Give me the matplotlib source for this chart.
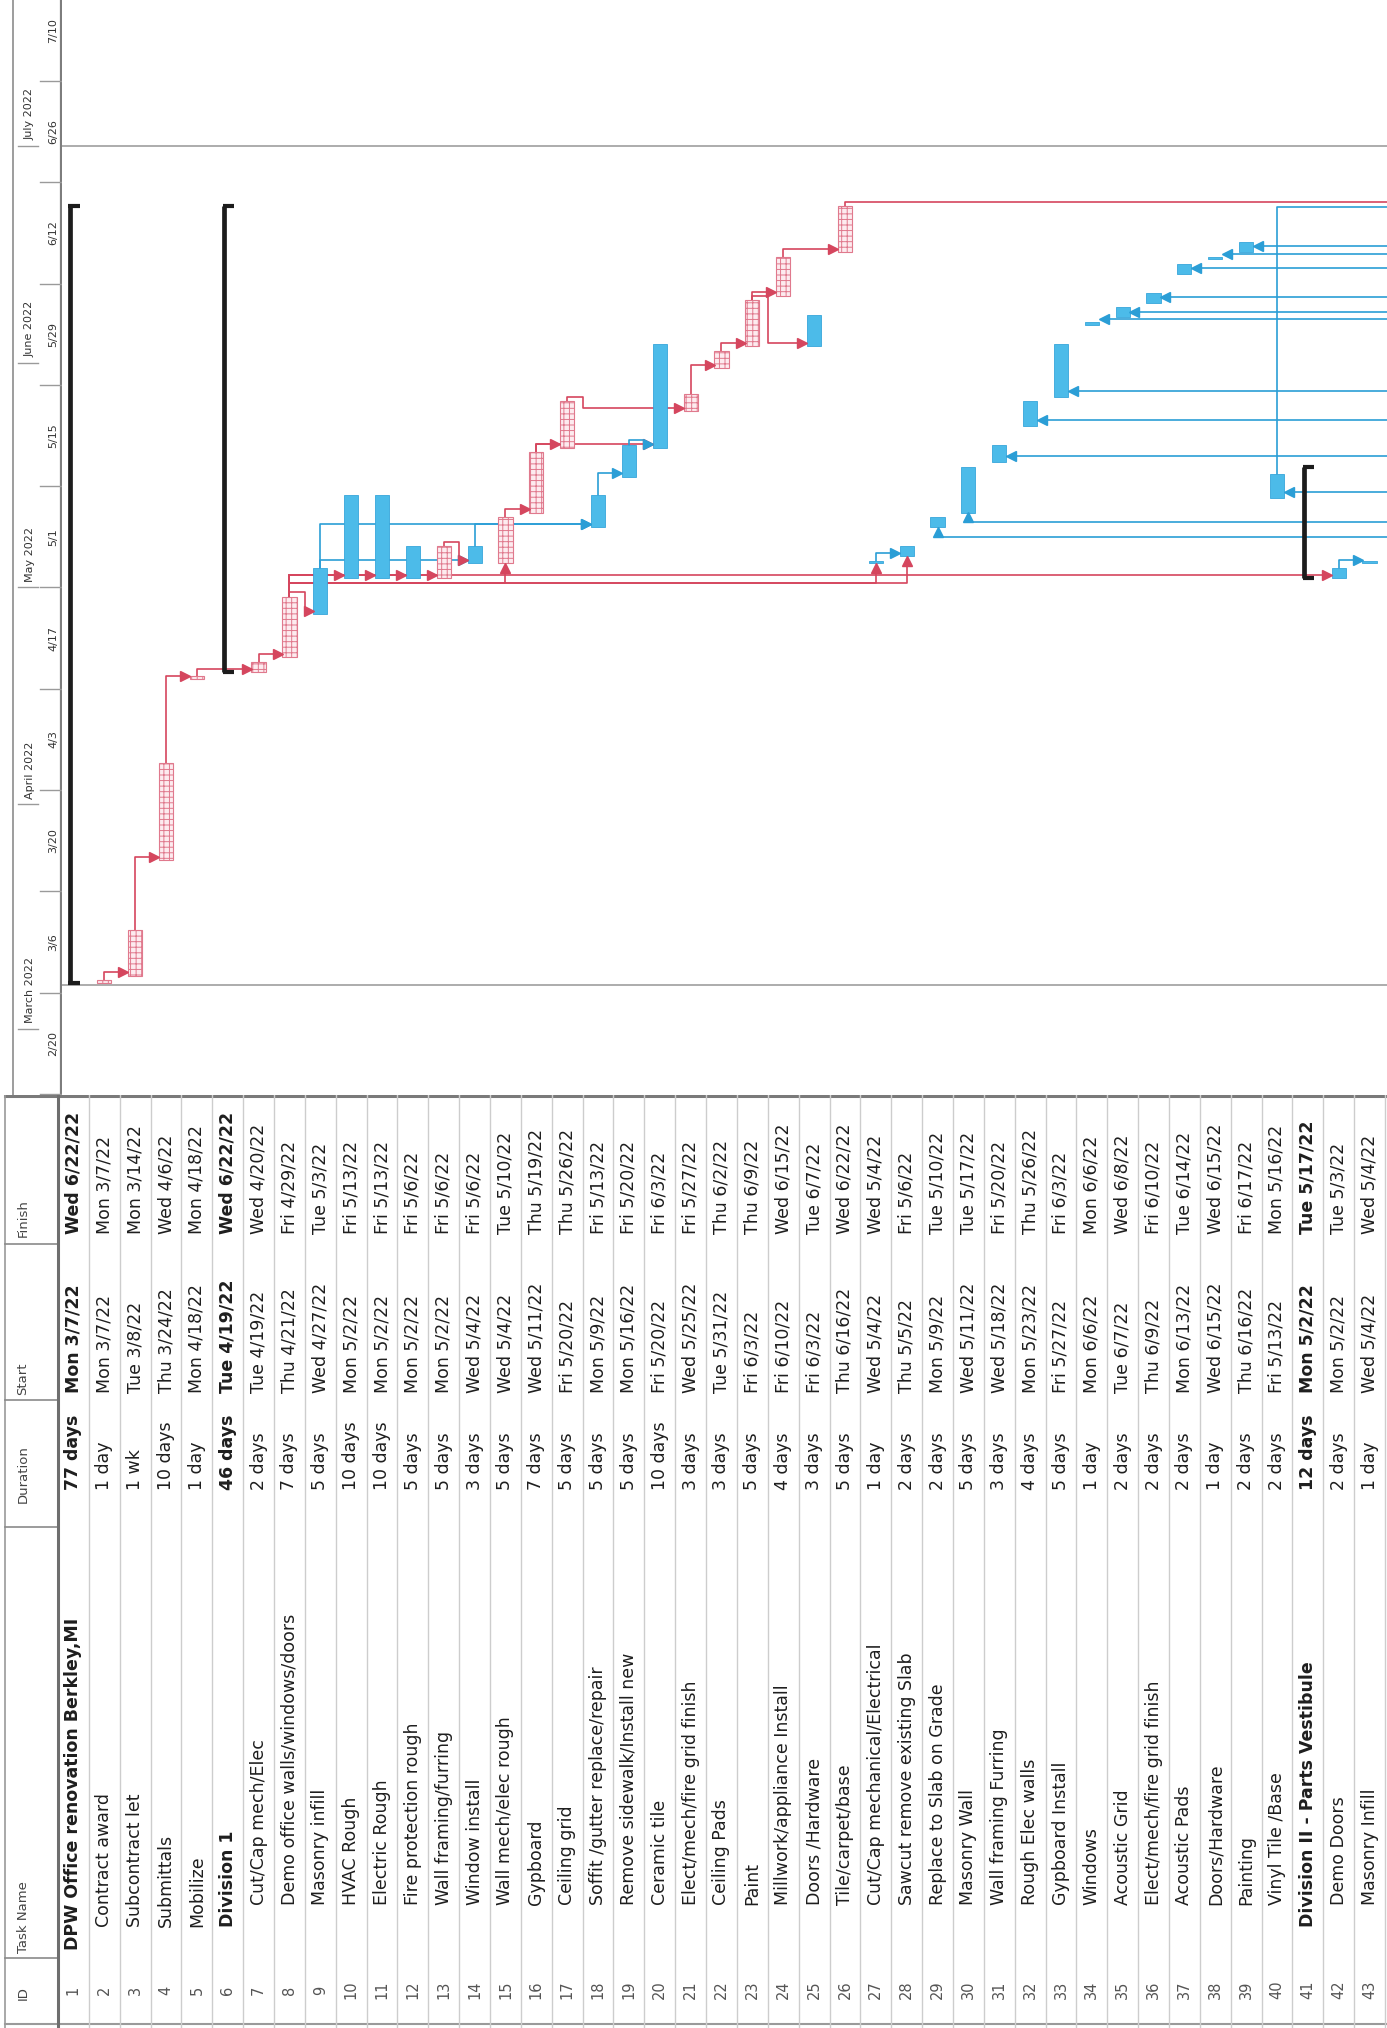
import matplotlib
matplotlib.use('Agg')
import matplotlib.pyplot as plt
import matplotlib.dates as mdates
import pandas as pd
from matplotlib.patches import Rectangle

# ---------------- data ----------------
task_ids = list(range(1, 44))
task_names = [
    "DPW Office renovation Berkley,MI", "Contract award", "Subcontract let", "Submittals",
    "Mobilize", "Division 1", "Cut/Cap mech/Elec", "Demo office walls/windows/doors",
    "Masonry infill", "HVAC Rough", "Electric Rough", "Fire protection rough",
    "Wall framing/furring", "Window install", "Wall mech/elec rough", "Gypboard",
    "Ceiling grid", "Soffit /gutter replace/repair", "Remove sidewalk/Install new",
    "Ceramic tile", "Elect/mech/fire grid finish", "Ceiling Pads", "Paint",
    "Millwork/appliance Install", "Doors /Hardware", "Tile/carpet/base",
    "Cut/Cap mechanical/Electrical", "Sawcut remove existing Slab", "Replace to Slab on Grade",
    "Masonry Wall", "Wall framing Furring", "Rough Elec walls", "Gypboard Install",
    "Windows", "Acoustic Grid", "Elect/mech/fire grid finish", "Acoustic Pads",
    "Doors/Hardware", "Painting", "Vinyl Tile /Base", "Division II - Parts Vestibule",
    "Demo Doors", "Masonry Infill"]
durations = [
    "77 days", "1 day", "1 wk", "10 days", "1 day", "46 days", "2 days", "7 days",
    "5 days", "10 days", "10 days", "5 days", "5 days", "3 days", "5 days", "7 days",
    "5 days", "5 days", "5 days", "10 days", "3 days", "3 days", "5 days", "4 days",
    "3 days", "5 days", "1 day", "2 days", "2 days", "5 days", "3 days", "4 days",
    "5 days", "1 day", "2 days", "2 days", "2 days", "1 day", "2 days", "2 days",
    "12 days", "2 days", "1 day"]
starts = [
    "Mon 3/7/22", "Mon 3/7/22", "Tue 3/8/22", "Thu 3/24/22", "Mon 4/18/22", "Tue 4/19/22",
    "Tue 4/19/22", "Thu 4/21/22", "Wed 4/27/22", "Mon 5/2/22", "Mon 5/2/22", "Mon 5/2/22",
    "Mon 5/2/22", "Wed 5/4/22", "Wed 5/4/22", "Wed 5/11/22", "Fri 5/20/22", "Mon 5/9/22",
    "Mon 5/16/22", "Fri 5/20/22", "Wed 5/25/22", "Tue 5/31/22", "Fri 6/3/22", "Fri 6/10/22",
    "Fri 6/3/22", "Thu 6/16/22", "Wed 5/4/22", "Thu 5/5/22", "Mon 5/9/22", "Wed 5/11/22",
    "Wed 5/18/22", "Mon 5/23/22", "Fri 5/27/22", "Mon 6/6/22", "Tue 6/7/22", "Thu 6/9/22",
    "Mon 6/13/22", "Wed 6/15/22", "Thu 6/16/22", "Fri 5/13/22", "Mon 5/2/22", "Mon 5/2/22",
    "Wed 5/4/22"]
finishes = [
    "Wed 6/22/22", "Mon 3/7/22", "Mon 3/14/22", "Wed 4/6/22", "Mon 4/18/22", "Wed 6/22/22",
    "Wed 4/20/22", "Fri 4/29/22", "Tue 5/3/22", "Fri 5/13/22", "Fri 5/13/22", "Fri 5/6/22",
    "Fri 5/6/22", "Fri 5/6/22", "Tue 5/10/22", "Thu 5/19/22", "Thu 5/26/22", "Fri 5/13/22",
    "Fri 5/20/22", "Fri 6/3/22", "Fri 5/27/22", "Thu 6/2/22", "Thu 6/9/22", "Wed 6/15/22",
    "Tue 6/7/22", "Wed 6/22/22", "Wed 5/4/22", "Fri 5/6/22", "Tue 5/10/22", "Tue 5/17/22",
    "Fri 5/20/22", "Thu 5/26/22", "Fri 6/3/22", "Mon 6/6/22", "Wed 6/8/22", "Fri 6/10/22",
    "Tue 6/14/22", "Wed 6/15/22", "Fri 6/17/22", "Mon 5/16/22", "Tue 5/17/22", "Tue 5/3/22",
    "Wed 5/4/22"]
outline_levels = [0] + [1] * 5 + [2] * 34 + [1] + [2] * 2
summary_rows = [1, 6, 41]
critical_rows = [2, 3, 4, 5, 7, 8, 13, 15, 16, 17, 21, 22, 23, 24, 26]

# dependencies (predecessor, successor)
links_fs = [(2, 3), (3, 4), (4, 5), (5, 7), (7, 8), (8, 9), (8, 10), (8, 11), (8, 12),
            (8, 13), (9, 14), (13, 14), (9, 18), (14, 18), (15, 16), (16, 17), (16, 20),
            (18, 19), (19, 20), (17, 21), (21, 22), (22, 23), (23, 24), (23, 25), (24, 26),
            (27, 28), (8, 42), (42, 43)]
links_up = [(8, 15), (8, 27), (8, 28)]
offpage_in_left = [31, 32, 33, 34, 35, 36, 37, 38, 39, 40]
offpage_in_up = [29, 30]
offpage_out = [(26, "2022-06-23 05:00"), (40, "2022-06-22 14:00")]
ref_line_dates = ["2022-03-07", "2022-07-01"]

month_labels = ["March 2022", "April 2022", "May 2022", "June 2022", "July 2022"]
month_starts = ["2022-03-01", "2022-04-01", "2022-05-01", "2022-06-01", "2022-07-01"]
week_labels = ["2/20", "3/6", "3/20", "4/3", "4/17", "5/1", "5/15", "5/29", "6/12", "6/26", "7/10"]
week_starts = ["2022-02-20", "2022-03-06", "2022-03-20", "2022-04-03", "2022-04-17", "2022-05-01",
               "2022-05-15", "2022-05-29", "2022-06-12", "2022-06-26", "2022-07-10"]

# ---------------- layout ----------------
W, H = 1387, 2028
ROW0, ROWW = 58.0, 30.86          # px of row grid
TABLE_TOP = 1095
GANTT_LEFT = 62
ANCHOR = mdates.date2num(pd.Timestamp("2022-04-03"))
ANCHOR_PX, PX_PER_DAY = 790.0, 7.235

RED = "#d5465e"
BLUE = "#2b9ed6"
BAR_BLUE = "#4cbbe9"
HW = 0.23     # half bar width (rows)
ARW = 0.15    # arrow offset (rows)

plt.rcParams['hatch.linewidth'] = 0.7
plt.rcParams['font.family'] = ['DejaVu Sans']


def dnum(s):
    return mdates.date2num(pd.to_datetime(s.split()[-1], format="%m/%d/%y"))


start_num = {i: dnum(s) for i, s in zip(task_ids, starts)}
finish_num = {i: dnum(s) for i, s in zip(task_ids, finishes)}


def c(r):
    return r - 0.5


def ystart(r):
    return start_num[r] + 0.33


def yend(r):
    return finish_num[r] + 0.71


fig = plt.figure(figsize=(W / 100, H / 100), dpi=100)
fig.patch.set_facecolor("white")

ylim_g = (ANCHOR - (TABLE_TOP - ANCHOR_PX) / PX_PER_DAY, ANCHOR + ANCHOR_PX / PX_PER_DAY)

ax_g = fig.add_axes([GANTT_LEFT / W, 1 - TABLE_TOP / H, (W - GANTT_LEFT) / W, TABLE_TOP / H])
ax_g.set_xlim((GANTT_LEFT - ROW0) / ROWW, (W - ROW0) / ROWW)
ax_g.set_ylim(*ylim_g)
ax_g.axis("off")
XMAX = (W - ROW0) / ROWW

ax_ts = fig.add_axes([0, 1 - TABLE_TOP / H, GANTT_LEFT / W, TABLE_TOP / H])
ax_ts.set_xlim(0, GANTT_LEFT)
ax_ts.set_ylim(*ylim_g)
ax_ts.axis("off")

ax_t = fig.add_axes([0, 0, 1, (H - TABLE_TOP) / H])
ax_t.set_xlim(-ROW0 / ROWW, (W - ROW0) / ROWW)
ax_t.set_ylim(H, TABLE_TOP)
ax_t.axis("off")

# ---------------- timescale ----------------
ax_ts.axvline(13, color="#8c8c8c", lw=1.2)
ax_ts.axvline(GANTT_LEFT - 0.8, color="#7d7d7d", lw=1.6)
for lab, m in zip(month_labels, month_starts):
    y = mdates.date2num(pd.Timestamp(m))
    ax_ts.plot([18, 38], [y, y], color="#9a9a9a", lw=1)
    ax_ts.text(30, y + 0.8, lab, rotation=90, rotation_mode="anchor", ha="left",
               va="center", fontsize=8, color="#333333", clip_on=True)
for lab, w in zip(week_labels, week_starts):
    y = mdates.date2num(pd.Timestamp(w))
    ax_ts.plot([40, 62], [y, y], color="#9a9a9a", lw=1)
    ax_ts.text(53, y + 7, lab, rotation=90, rotation_mode="anchor", ha="center",
               va="center", fontsize=8, color="#333333", clip_on=True)

# ---------------- gantt ----------------
for d in ref_line_dates:
    ax_g.axhline(mdates.date2num(pd.Timestamp(d)), color="#a6a6a6", lw=1.3, zorder=1)

for r in task_ids:
    y0, y1 = ystart(r), yend(r)
    if r in summary_rows:
        x = c(r) - 0.12
        ax_g.plot([x, x], [y0, y1], color="#1c1c1c", lw=3.4, solid_capstyle="butt", zorder=5)
        for yy in (y0, y1):
            ax_g.plot([x - 0.04, x + 0.33], [yy, yy], color="#1c1c1c", lw=3.0,
                      solid_capstyle="butt", zorder=5)
    elif r in critical_rows:
        ax_g.add_patch(Rectangle((c(r) - HW, y0), 2 * HW, y1 - y0, facecolor="#fdebef",
                                 edgecolor="#e0798d", hatch="+++", lw=0.8, zorder=3))
    else:
        ax_g.add_patch(Rectangle((c(r) - HW, y0), 2 * HW, y1 - y0, facecolor=BAR_BLUE,
                                 edgecolor="#36a6da", lw=0.6, zorder=3))


def lcolor(p):
    return RED if p in critical_rows else BLUE


for p, s in links_fs:
    col = lcolor(p)
    xp, yp = c(p), yend(p)
    xs = c(s) - HW - ARW
    ys = ystart(s) + 0.45
    if ys >= yp + 0.25:
        px_, py_ = [xp, xp, xs], [yp, ys, ys]
    else:
        up = yp + 0.6
        mid = xp + 0.5
        px_, py_ = [xp, xp, mid, mid, xs], [yp, up, up, ys, ys]
    ax_g.plot(px_, py_, color=col, lw=1.2, zorder=2)
    ax_g.plot(xs, ys, marker=">", ms=7, color=col, mec=col, zorder=4)

for p, s in links_up:
    col = lcolor(p)
    lvl = yend(p) + 1.9
    tip = ystart(s) - 0.65
    ax_g.plot([c(p), c(p), c(s), c(s)], [yend(p), lvl, lvl, tip], color=col, lw=1.2, zorder=2)
    ax_g.plot(c(s), tip, marker="^", ms=7, color=col, mec=col, zorder=4)

for r in offpage_in_left:
    ys = ystart(r) + 0.8
    xa = c(r) + HW + ARW
    ax_g.plot([XMAX, xa], [ys, ys], color=BLUE, lw=1.2, zorder=2)
    ax_g.plot(xa, ys, marker="<", ms=7, color=BLUE, mec=BLUE, zorder=4)

for r in offpage_in_up:
    lvl = ystart(r) - 1.3
    tip = ystart(r) - 0.65
    ax_g.plot([XMAX, c(r), c(r)], [lvl, lvl, tip], color=BLUE, lw=1.2, zorder=2)
    ax_g.plot(c(r), tip, marker="^", ms=7, color=BLUE, mec=BLUE, zorder=4)

for r, lv in offpage_out:
    col = lcolor(r)
    lvl = mdates.date2num(pd.Timestamp(lv))
    ax_g.plot([c(r), c(r), XMAX], [yend(r), lvl, lvl], color=col, lw=1.2, zorder=2)

# ---------------- table ----------------
HDR_L = (5 - ROW0) / ROWW
HDR_X = (23 - ROW0) / ROWW
col_bounds = [1244, 1400, 1527, 1958]
ax_t.plot([HDR_L, XMAX], [TABLE_TOP + 1, TABLE_TOP + 1], color="#7a7a7a", lw=2.2)
ax_t.plot([HDR_L, XMAX], [H - 4, H - 4], color="#9a9a9a", lw=1.5)
ax_t.plot([HDR_L, HDR_L], [TABLE_TOP, H], color="#9a9a9a", lw=1.2)
for yb in col_bounds:
    ax_t.plot([HDR_L, 0], [yb, yb], color="#8a8a8a", lw=1.2)
for i in range(1, 44):
    ax_t.plot([i, i], [TABLE_TOP, H], color="#cdcdcd", lw=1.0)
ax_t.plot([0, 0], [TABLE_TOP, H], color="#6e6e6e", lw=2.2)

hdr = [("Finish", 1237), ("Start", 1395), ("Duration", 1503), ("Task Name", 1953), ("ID", 2000)]
for lab, yy in hdr:
    ax_t.text(HDR_X, yy, lab, rotation=90, rotation_mode="anchor", ha="left", va="center",
              fontsize=9.5, color="#444444")

name_base = {0: 1950, 1: 1927, 2: 1905}
for r, name, dur, st, fi, lvl in zip(task_ids, task_names, durations, starts, finishes,
                                     outline_levels):
    x = c(r)
    fw = "bold" if r in summary_rows else "normal"
    kw = dict(rotation=90, rotation_mode="anchor", va="center", fontsize=12.5,
              color="#1e1e1e", fontweight=fw)
    ax_t.text(x, 1234, fi, ha="left", **kw)
    ax_t.text(x, 1393, st, ha="left", **kw)
    ax_t.text(x, 1490, dur, ha="left", **kw)
    ax_t.text(x, name_base[lvl], name, ha="left", **kw)
    ax_t.text(x, 1990, str(r), rotation=90, rotation_mode="anchor", ha="center",
              va="center", fontsize=10.5, color="#555555")

fig.savefig("out.png", dpi=100)
